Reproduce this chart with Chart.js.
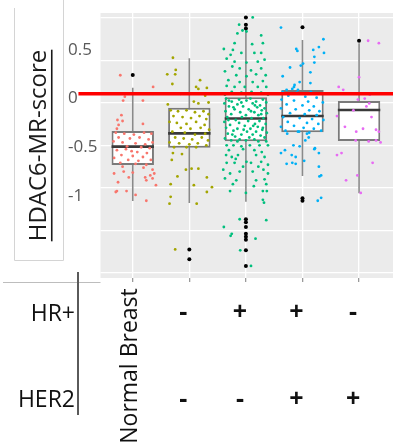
<!DOCTYPE html>
<html><head><meta charset="utf-8">
<script src="https://cdn.jsdelivr.net/npm/chart.js@4"></script>
<style>html,body{margin:0;padding:0;background:#fff;}canvas{display:block;}</style>
</head><body>
<canvas id="c" width="397" height="447"></canvas>
<script>
// ---------- data ----------
const categories = ['Normal Breast', 'HR- HER2-', 'HR+ HER2-', 'HR+ HER2+', 'HR- HER2+'];
const rowLabels = ['HR+', 'HER2'];
const hrSigns   = ['', '-', '+', '+', '-'];
const her2Signs = ['', '-', '-', '+', '+'];
const yTitle = 'HDAC6-MR-score';
const yTicks = [0.5, 0, -0.5, -1];
const refLineY = 0.05;
const refLineX = [0.04, 5.6];
const colors = ['#F8766D', '#A3A500', '#00BF7D', '#00B0F6', '#E76BF3'];

const q1      = [-0.682, -0.505, -0.439, -0.346, -0.436];
const median  = [-0.494, -0.357, -0.205, -0.179, -0.117];
const q3      = [-0.333, -0.094,  0.013,  0.088, -0.025];
const whiskLo = [-1.052, -1.073, -1.060, -0.795, -0.973];
const whiskHi = [ 0.112,  0.414,  0.705,  0.602,  0.568];
const outliers = [
  [0.243],
  [-1.55, -1.65],
  [0.835, 0.76, 0.72, -1.24, -1.27, -1.32, -1.39, -1.42, -1.45, -1.56, -1.72],
  [0.733, -1.025, -1.049],
  [0.595]
];

// jittered points: [horizontal jitter (category units), value]
const normalPts = [[-0.22,0.24],[0.36,0.12],[-0.14,0.02],[-0.17,-0.02],[0.18,-0.02],[-0.20,-0.17],[-0.27,-0.22],[-0.18,-0.23],[0.18,-0.26],[-0.25,-0.27],[-0.28,-0.31],
[-0.30,-0.35],[-0.15,-0.36],[0.02,-0.37],[0.20,-0.35],[0.33,-0.36],[-0.25,-0.40],[-0.05,-0.41],[0.12,-0.40],[0.28,-0.42],[-0.34,-0.44],[-0.18,-0.45],[0.05,-0.46],[0.22,-0.47],[-0.10,-0.49],[0.15,-0.50],[0.30,-0.51],[-0.28,-0.53],[-0.02,-0.54],[0.08,-0.55],[0.25,-0.56],[-0.20,-0.58],[0.00,-0.59],[0.18,-0.60],[-0.33,-0.61],[-0.08,-0.63],[0.10,-0.64],[0.32,-0.63],[-0.22,-0.66],[0.05,-0.67],[0.24,-0.68],[-0.12,-0.52],[0.35,-0.45],
[-0.18,-0.70],[0.19,-0.71],[-0.16,-0.75],[0.35,-0.73],[0.00,-0.76],[-0.07,-0.81],[0.22,-0.81],[0.31,-0.79],[0.38,-0.77],[0.35,-0.82],[0.24,-0.84],[-0.28,-0.95],[-0.11,-0.95],[0.05,-0.99],[0.24,-1.05],[-0.26,-0.86],[-0.33,-0.77],[0.41,-0.89],[-0.30,-0.96]];

const tnPts = [[-0.29,0.42],[-0.24,0.295],[-0.25,0.25],[-0.39,0.25],[-0.30,0.15],[0.12,0.12],[0.19,0.19],[0.16,0.10],[0.31,0.11],[-0.16,0.05],[0.28,0.03],[0.08,-0.03],[0.34,-0.04],[-0.38,-0.06],[0.16,-0.05],
[-0.33,-0.12],[-0.20,-0.13],[-0.05,-0.12],[0.10,-0.14],[0.25,-0.13],[0.34,-0.16],[-0.28,-0.18],[-0.12,-0.19],[0.03,-0.20],[0.18,-0.18],[0.30,-0.21],[-0.35,-0.24],[-0.22,-0.25],[-0.05,-0.26],[0.12,-0.24],[0.27,-0.27],[-0.15,-0.30],[0.02,-0.31],[0.20,-0.30],[0.35,-0.32],[-0.30,-0.34],[-0.08,-0.35],[0.10,-0.37],[0.28,-0.36],[-0.25,-0.40],[-0.10,-0.41],[0.05,-0.42],[0.22,-0.40],[0.33,-0.43],[-0.35,-0.45],[-0.18,-0.46],[0.00,-0.47],[0.15,-0.46],[0.30,-0.48],[-0.27,-0.50],[-0.05,-0.50],[0.12,-0.50],
[-0.29,-0.56],[-0.13,-0.57],[-0.31,-0.63],[-0.06,-0.73],[0.04,-0.72],[0.16,-0.72],[-0.21,-0.80],[0.31,-0.81],[-0.33,-0.88],[0.08,-0.89],[0.40,-0.91],[0.31,-0.96],[-0.33,-1.01],[-0.35,-1.08],[0.13,-1.08],[-0.25,-1.55]];

const hrPosPts = [[0.12,0.835],[-0.12,0.76],[-0.06,0.70],[-0.15,0.67],[0.01,0.69],[0.27,0.65],[-0.20,0.57],[0.11,0.56],[0.30,0.57],[-0.39,0.51],[-0.23,0.50],[-0.08,0.47],[-0.27,0.45],[0.27,0.47],[0.15,0.47],[-0.34,0.41],[-0.20,0.38],[0.01,0.37],[0.21,0.38],[0.33,0.40],[-0.24,0.33],[-0.11,0.31],[0.09,0.29],[0.27,0.31],[-0.37,0.28],[-0.17,0.24],[0.01,0.23],[0.18,0.25],[0.35,0.24],[-0.31,0.19],[-0.11,0.17],[0.12,0.17],[0.30,0.18],[-0.34,0.13],[-0.20,0.12],[-0.02,0.12],[0.21,0.12],[0.36,0.12],[-0.25,0.07],[-0.08,0.06],[0.10,0.07],[0.27,0.06],[-0.37,0.04],[0.39,0.04],
[-0.35,0.00],[-0.12,-0.01],[0.08,0.00],[0.30,-0.01],[-0.25,-0.03],[0.01,-0.02],[0.18,-0.03],[0.36,-0.04],[-0.38,-0.05],[-0.15,-0.06],[0.12,-0.05],[0.25,-0.07],[-0.30,-0.08],[-0.05,-0.08],[0.20,-0.09],[0.33,-0.10],[-0.20,-0.11],[0.05,-0.11],[0.28,-0.12],[-0.36,-0.13],[-0.10,-0.14],[0.15,-0.14],[0.37,-0.15],[-0.26,-0.16],[0.00,-0.17],[0.22,-0.17],[-0.33,-0.19],[-0.07,-0.19],[0.10,-0.20],[0.31,-0.20],[-0.18,-0.22],[0.04,-0.23],[0.24,-0.23],[-0.38,-0.24],[-0.12,-0.25],[0.16,-0.26],[0.35,-0.26],[-0.28,-0.27],[-0.02,-0.28],[0.21,-0.29],[-0.35,-0.30],[-0.15,-0.31],[0.08,-0.31],[0.29,-0.32],[-0.22,-0.33],[0.02,-0.34],[0.18,-0.34],[0.37,-0.35],[-0.32,-0.36],[-0.08,-0.37],[0.12,-0.37],[0.26,-0.38],[-0.19,-0.39],[0.06,-0.40],[0.33,-0.40],[-0.37,-0.41],[-0.11,-0.42],[0.15,-0.42],[-0.26,-0.43],[0.00,-0.43],[0.22,-0.44],[0.36,-0.44],[-0.30,-0.02],[-0.08,-0.04],[0.16,-0.07],[-0.22,-0.09],[0.09,-0.13],[-0.31,-0.22],[0.27,-0.16],[-0.04,-0.32],[0.13,-0.28],[-0.24,-0.37],[0.30,-0.30],[-0.15,-0.44],
[-0.34,-0.48],[-0.22,-0.48],[-0.08,-0.49],[0.07,-0.48],[0.24,-0.48],[0.39,-0.48],[-0.35,-0.58],[-0.25,-0.60],[-0.14,-0.58],[0.01,-0.65],[0.18,-0.58],[0.33,-0.60],[-0.34,-0.66],[-0.20,-0.66],[0.09,-0.66],[0.27,-0.65],[0.39,-0.68],[-0.40,-0.73],[-0.28,-0.77],[-0.11,-0.75],[0.12,-0.75],[0.31,-0.73],[0.39,-0.77],[-0.37,-0.82],[-0.17,-0.84],[0.18,-0.84],[0.33,-0.83],[-0.28,-0.95],[0.00,-0.97],[0.14,-0.90],[0.30,-0.95],[0.37,-0.95],[0.30,-1.04],[0.32,-1.07],[-0.11,-1.24],[0.36,-1.25],[-0.39,-1.32],[-0.27,-1.41],[-0.25,-1.39],[0.17,-1.44],[-0.10,-1.56],[0.09,-1.72],[-0.05,-0.52],[0.15,-0.53],[-0.30,-0.53],[0.28,-0.55],[-0.18,-0.62],[0.22,-0.70],[-0.05,-0.70],[0.36,-0.88],[-0.23,-0.88]];

const hrHer2Pts = [[-0.38,0.73],[0.37,0.61],[0.29,0.53],[-0.11,0.51],[-0.09,0.49],[0.19,0.50],[0.38,0.47],[0.21,0.43],[0.21,0.37],[0.01,0.36],[-0.03,0.34],[-0.22,0.32],[0.14,0.27],[-0.35,0.23],[-0.05,0.17],[0.14,0.16],[-0.14,0.14],[-0.15,0.12],[-0.18,0.10],[-0.08,0.09],[-0.28,0.09],
[-0.35,0.07],[-0.10,0.06],[0.15,0.07],[0.33,0.05],[-0.25,0.03],[0.05,0.02],[0.25,0.01],[-0.37,-0.01],[-0.15,-0.02],[0.10,-0.03],[0.36,-0.04],[-0.28,-0.06],[0.00,-0.07],[0.20,-0.08],[-0.38,-0.10],[-0.12,-0.11],[0.12,-0.12],[0.30,-0.13],[-0.22,-0.15],[0.04,-0.16],[0.25,-0.17],[-0.34,-0.19],[-0.05,-0.20],[0.17,-0.21],[0.37,-0.22],[-0.26,-0.24],[0.08,-0.25],[0.28,-0.26],[-0.15,-0.28],[-0.38,-0.29],[0.02,-0.30],[0.20,-0.31],[-0.30,-0.33],[-0.08,-0.34],[0.33,-0.33],[0.12,-0.35],
[-0.27,-0.36],[-0.06,-0.34],[0.08,-0.36],[0.11,-0.40],[0.05,-0.43],[-0.16,-0.48],[-0.05,-0.49],[0.21,-0.52],[-0.31,-0.53],[-0.38,-0.56],[0.29,-0.56],[-0.19,-0.58],[-0.12,-0.60],[0.03,-0.64],[-0.18,-0.66],[0.33,-0.79],[0.30,-0.80],[0.27,-1.05],[0.33,-1.02],[-0.28,-0.67],[-0.12,-0.67],[0.22,-0.51],[0.29,-0.70]];

const her2Pts = [[0.16,0.595],[0.35,0.57],[0.00,0.22],[-0.36,0.12],[-0.28,0.09],[-0.04,0.05],[0.19,0.04],[0.10,0.00],[0.13,-0.08],[-0.10,-0.12],[-0.39,-0.18],[0.22,-0.19],[-0.25,-0.29],[0.07,-0.31],[0.30,-0.32],[-0.05,-0.34],[0.35,-0.34],[-0.06,-0.43],[0.17,-0.44],[0.30,-0.43],[0.38,-0.45],[-0.39,-0.58],[-0.31,-0.56],[0.24,-0.66],[-0.23,-0.84],[-0.03,-0.79],[0.03,-0.97],[0.18,-0.05],[-0.02,-0.01]];

const groupPts = [normalPts, tnPts, hrPosPts, hrHer2Pts, her2Pts];
const boxWidth = 0.75;

// ---------- datasets ----------
const pos = i => i + 1;
const whiskerData = [], medianData = [];
categories.forEach((c, i) => {
  whiskerData.push({x: pos(i), y: whiskLo[i]}, {x: pos(i), y: whiskHi[i]}, {x: pos(i), y: null});
  medianData.push({x: pos(i) - boxWidth/2, y: median[i]}, {x: pos(i) + boxWidth/2, y: median[i]}, {x: pos(i), y: null});
});
const outlierData = [];
outliers.forEach((arr, i) => arr.forEach(v => outlierData.push({x: pos(i), y: v})));

const datasets = [
  {type: 'line', data: refLineX.map(x => ({x, y: refLineY})), borderColor: '#ff0000', borderWidth: 3.5,
   pointRadius: 0, clip: false, order: 0, yAxisID: 'y', xAxisID: 'x'},
  ...groupPts.map((pts, i) => ({type: 'scatter', data: pts.map(([dx, v]) => ({x: pos(i) + dx, y: v})),
   backgroundColor: colors[i], borderWidth: 0, pointRadius: 1.4, order: 2, yAxisID: 'y', xAxisID: 'x'})),
  {type: 'scatter', data: outlierData, backgroundColor: '#000', borderWidth: 0, pointRadius: 2, order: 3, yAxisID: 'y', xAxisID: 'x'},
  {type: 'line', data: medianData, borderColor: '#3a3a3a', borderWidth: 2.6, pointRadius: 0, spanGaps: false, order: 4, yAxisID: 'y', xAxisID: 'x'},
  {type: 'bar', data: categories.map((c, i) => ({x: pos(i), y: [q1[i], q3[i]]})), backgroundColor: '#ffffff',
   borderColor: '#7a7a7a', borderWidth: 2, borderSkipped: false, barPercentage: boxWidth, categoryPercentage: 1,
   order: 5, yAxisID: 'y', xAxisID: 'x'},
  {type: 'line', data: whiskerData, borderColor: '#8a8a8a', borderWidth: 1.6, pointRadius: 0, spanGaps: false, order: 6, yAxisID: 'y', xAxisID: 'x'}
];

const FONT = '"Open Sans", "Noto Sans", sans-serif';
const titleSize = 24, titlePad = 25;

const decor = {
  id: 'decor',
  beforeDraw(chart) {
    const {ctx, chartArea: a} = chart;
    ctx.save();
    ctx.fillStyle = '#ebebeb';
    ctx.fillRect(a.left, a.top, a.right - a.left, a.bottom - a.top);
    ctx.restore();
  },
  afterDraw(chart) {
    const ctx = chart.ctx, xs = chart.scales.x, yT = chart.scales.yT;
    ctx.save();
    // underline of the y title
    ctx.font = `${titleSize}px ${FONT}`;
    const w = ctx.measureText(yTitle).width;
    const cx = yT.left + titlePad + titleSize * 1.2 / 2;
    const cy = (yT.top + yT.bottom) / 2;
    const ux = cx + titleSize * 0.39 + 3;
    ctx.strokeStyle = '#1a1a1a'; ctx.lineWidth = 1.6;
    ctx.beginPath(); ctx.moveTo(ux, cy - w / 2); ctx.lineTo(ux, cy + w / 2); ctx.stroke();
    // frame lines of the figure
    ctx.strokeStyle = '#d4d4d4'; ctx.lineWidth = 1;
    ctx.beginPath(); ctx.moveTo(14.5, 8); ctx.lineTo(14.5, 260.5); ctx.lineTo(63.5, 260.5); ctx.lineTo(63.5, 0); ctx.stroke();
    ctx.strokeStyle = '#bdbdbd';
    ctx.beginPath(); ctx.moveTo(3, 282.5); ctx.lineTo(chart.chartArea.left, 282.5); ctx.stroke();
    ctx.strokeStyle = '#5a5a5a'; ctx.lineWidth = 2;
    ctx.beginPath(); ctx.moveTo(78, 272); ctx.lineTo(78, 415); ctx.stroke();
    // row labels
    ctx.fillStyle = '#111'; ctx.font = `23px ${FONT}`;
    ctx.textAlign = 'right'; ctx.textBaseline = 'middle';
    ctx.fillText(rowLabels[0], 75, 314);
    ctx.fillText(rowLabels[1], 75, 400);
    // first category, rotated
    ctx.save();
    ctx.translate(xs.getPixelForValue(1) - 2, 366);
    ctx.rotate(-Math.PI / 2);
    ctx.textAlign = 'center';
    ctx.fillText(categories[0], 0, 0);
    ctx.restore();
    // sign table
    ctx.font = `700 25px ${FONT}`; ctx.textAlign = 'center';
    hrSigns.forEach((s, i) => { if (s) ctx.fillText(s, xs.getPixelForValue(pos(i)) - 6, 313); });
    her2Signs.forEach((s, i) => { if (s) ctx.fillText(s, xs.getPixelForValue(pos(i)) - 6, 400); });
    ctx.restore();
  }
};

new Chart(document.getElementById('c'), {
  type: 'scatter',
  data: {datasets},
  options: {
    responsive: false, animation: false,
    layout: {padding: {top: 13, left: 0, right: 0, bottom: 0}},
    plugins: {legend: {display: false}, tooltip: {enabled: false}},
    scales: {
      x: {
        type: 'linear', position: 'bottom', min: 0.43, max: 5.6, offset: false,
        afterBuildTicks: s => { s.ticks = categories.map((c, i) => ({value: pos(i)})); },
        afterFit: s => { s.height = 169; },
        grid: {offset: false, color: '#ffffff', lineWidth: 1.3, drawTicks: true, tickLength: 4, tickColor: '#9a9a9a'},
        border: {display: false},
        ticks: {display: false}
      },
      y: {
        type: 'linear', axis: 'y', position: 'left', min: -1.844, max: 0.88, beginAtZero: false,
        afterBuildTicks: s => { s.ticks = yTicks.map(v => ({value: v})); },
        afterFit: s => { s.width = 32.5; },
        grid: {display: false}, border: {display: false},
        ticks: {crossAlign: 'far', padding: 0, color: '#595959', font: {family: FONT, size: 17},
                callback: v => String(v)}
      },
      yT: {
        type: 'linear', axis: 'y', position: 'left', weight: 1, min: 0, max: 1,
        afterFit: s => { s.width = 68; },
        grid: {display: false}, border: {display: false}, ticks: {display: false},
        title: {display: true, text: yTitle, color: '#1a1a1a', font: {family: FONT, size: titleSize},
                padding: {top: titlePad, bottom: 0}}
      },
      yG: {
        type: 'linear', axis: 'y', position: 'right', min: -0.118, max: 6.118,
        afterBuildTicks: s => { s.ticks = [0, 1, 2, 3, 4, 5, 6].map(v => ({value: v})); },
        afterFit: s => { s.width = 0; },
        grid: {color: '#ffffff', lineWidth: 1.3, drawTicks: false}, border: {display: false},
        ticks: {display: false}
      }
    }
  },
  plugins: [decor]
});
</script></body></html>
